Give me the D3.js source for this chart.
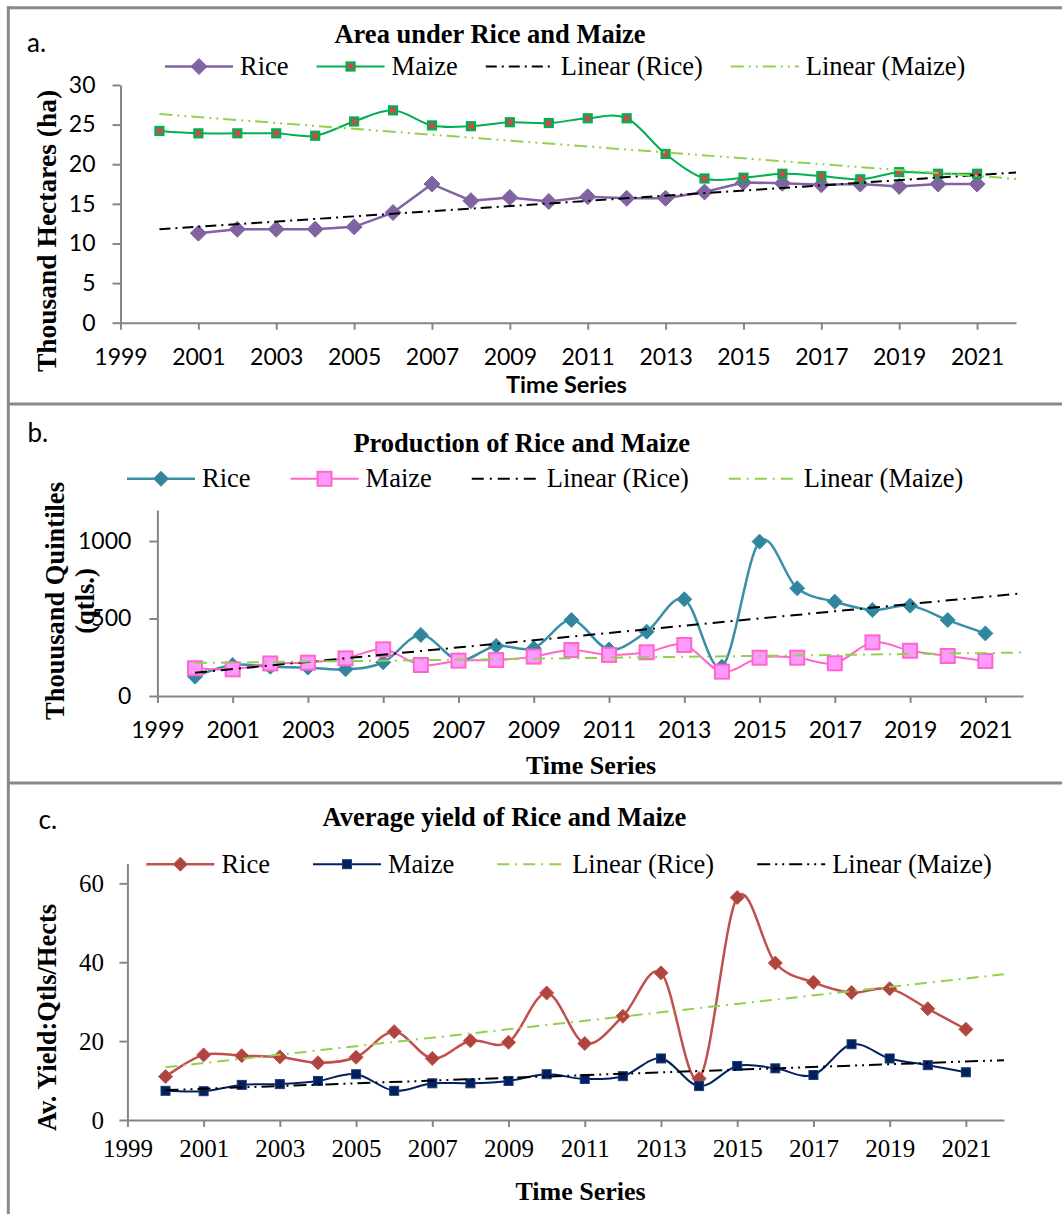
<!DOCTYPE html>
<html>
<head>
<meta charset="utf-8">
<script src="https://cdn.jsdelivr.net/npm/d3@7"></script>
<style>
  body { margin: 0; background: #fff; }
</style>
</head>
<body>
<svg id="chart" width="1062" height="1214"></svg>
<script>
// ---- data ----
const years = [2000, 2001, 2002, 2003, 2004, 2005, 2006, 2007, 2008, 2009, 2010,
               2011, 2012, 2013, 2014, 2015, 2016, 2017, 2018, 2019, 2020, 2021];

// a. area (thousand ha) - rice has no 2000 value
const areaRice  = [null, 11.3, 11.8, 11.8, 11.8, 12.1, 13.9, 17.5, 15.4, 15.8, 15.3,
                   15.9, 15.7, 15.7, 16.5, 17.7, 17.6, 17.4, 17.5, 17.2, 17.5, 17.5];
const areaMaize = [24.2, 23.9, 23.9, 23.9, 23.6, 25.4, 26.8, 24.9, 24.8, 25.3, 25.2,
                   25.8, 25.8, 21.3, 18.2, 18.3, 18.8, 18.5, 18.1, 19.0, 18.8, 18.8];

// b. production (thousand qtls)
const prodRice  = [125, 200, 189, 183, 172, 217, 394, 232, 323, 308, 490,
                   300, 415, 624, 189, 996, 695, 608, 555, 583, 490, 404];
const prodMaize = [179, 172, 210, 215, 243, 301, 200, 228, 232, 254, 297,
                   265, 282, 329, 157, 247, 247, 211, 346, 292, 258, 226];

// c. average yield (qtls/ha)
const yieldRice  = [11.0, 16.5, 16.3, 16.0, 14.5, 15.9, 22.4, 15.6, 20.1, 19.7, 32.2,
                    19.4, 26.3, 37.3, 10.5, 56.4, 39.8, 34.9, 32.3, 33.3, 28.2, 23.0];
const yieldMaize = [7.4, 7.3, 8.9, 9.1, 9.9, 11.6, 7.4, 9.3, 9.3, 9.9, 11.6,
                    10.4, 11.1, 15.6, 8.6, 13.7, 13.1, 11.4, 19.2, 15.6, 13.9, 12.1];

const xTicks = [1999, 2001, 2003, 2005, 2007, 2009, 2011, 2013, 2015, 2017, 2019, 2021];
const xDomain = [1999, 2022];
const trendSpan = [2000, 2022];
const areaTicks = [0, 5, 10, 15, 20, 25, 30];
const prodTicks = [0, 500, 1000];
const yieldTicks = [0, 20, 40, 60];

// ---- look ----
const sans = "Lato, 'Open Sans', sans-serif";
const serif = "'Liberation Serif', 'Times New Roman', serif";
const axisGray = "#868686";

const panels = [
  {
    letter: "a.", letterX: 27, letterY: 52, letterFont: sans,
    title: "Area under Rice and Maize", titleX: 490, titleY: 43,
    left: 120.5, right: 1016, bottom: 322.7, top: 85, yMax: 30, yTicks: areaTicks,
    tickFont: sans, tickFs: 23, yLabelGap: 25, xLabelY: 42.3,
    yTitle: ["Thousand Hectares (ha)"], yTitleX: [56], yTitleY: 231, yTitleFs: 27.5,
    xTitle: "Time Series", xTitleFont: sans, xTitleFs: 23.5, xTitleX: 566.5, xTitleY: 393,
    legendX: 165, legendY: 75, legendGap: 28,
    series: [
      { name: "Rice", values: areaRice, color: "#8064A2", width: 2.5, smooth: false,
        marker: "diamond", size: 16, fill: "#8064A2", stroke: "#8064A2", sw: 1 },
      { name: "Maize", values: areaMaize, color: "#00B050", width: 2, smooth: true,
        marker: "square", size: 8, fill: "#C0504D", stroke: "#00B050", sw: 2.2 }
    ],
    trends: [
      { name: "Linear (Rice)", of: 0, color: "#000", dash: "11,5,2,5" },
      { name: "Linear (Maize)", of: 1, color: "#92D050", dash: "13,5,2,5,2,5" }
    ]
  },
  {
    letter: "b.", letterX: 27.5, letterY: 441.7, letterFont: sans,
    title: "Production of Rice and Maize", titleX: 521.7, titleY: 451.7,
    left: 157.4, right: 1023, bottom: 696, top: 510, yMax: 1200, yTicks: prodTicks,
    tickFont: sans, tickFs: 23, yLabelGap: 26, xLabelY: 42,
    yTitle: ["Thouusand Quintiles", "(qtls.)"], yTitleX: [64, 94], yTitleY: 601, yTitleFs: 26.5,
    xTitle: "Time Series", xTitleFont: serif, xTitleFs: 26, xTitleX: 591, xTitleY: 774,
    legendX: 127, legendY: 487.3, legendGap: 40,
    series: [
      { name: "Rice", values: prodRice, color: "#3A8FA7", width: 2.5, smooth: true,
        marker: "diamond", size: 15, fill: "#31859C", stroke: "#3A8FA7", sw: 1 },
      { name: "Maize", values: prodMaize, color: "#FF66CC", width: 2, smooth: true,
        marker: "square", size: 14, fill: "#FF99FF", stroke: "#FF66CC", sw: 2 }
    ],
    trends: [
      { name: "Linear (Rice)", of: 0, color: "#000", dash: "12,6,2,6" },
      { name: "Linear (Maize)", of: 1, color: "#92D050", dash: "12,6,2,6" }
    ]
  },
  {
    letter: "c.", letterX: 38.5, letterY: 829.3, letterFont: sans,
    title: "Average yield of Rice and Maize", titleX: 504.4, titleY: 825.7,
    left: 127.4, right: 1004, bottom: 1120, top: 863.6, yMax: 65, yTicks: yieldTicks,
    tickFont: serif, tickFs: 25, yLabelGap: 23.4, xLabelY: 37,
    yTitle: ["Av. Yield:Qtls/Hects"], yTitleX: [56], yTitleY: 1017.5, yTitleFs: 26.5,
    xTitle: "Time Series", xTitleFont: serif, xTitleFs: 26, xTitleX: 580.5, xTitleY: 1200,
    legendX: 146.4, legendY: 872.7, legendGap: 43,
    series: [
      { name: "Rice", values: yieldRice, color: "#C0504D", width: 2.5, smooth: true,
        marker: "diamond", size: 14, fill: "#B0453F", stroke: "#C0504D", sw: 1 },
      { name: "Maize", values: yieldMaize, color: "#002060", width: 2, smooth: true,
        marker: "square", size: 9, fill: "#002060", stroke: "#1F3B73", sw: 1 }
    ],
    trends: [
      { name: "Linear (Rice)", of: 0, color: "#92D050", dash: "12,6,2,6" },
      { name: "Linear (Maize)", of: 1, color: "#000", dash: "13,5,2,5,2,5" }
    ]
  }
];

const svg = d3.select("#chart");

// panel frames
const frame = svg.append("g").attr("stroke", "#888").attr("stroke-width", 3);
frame.append("line").attr("x1", 7).attr("x2", 1062).attr("y1", 7.7).attr("y2", 7.7);
frame.append("line").attr("x1", 7).attr("x2", 1062).attr("y1", 404).attr("y2", 404);
frame.append("line").attr("x1", 7).attr("x2", 1062).attr("y1", 783).attr("y2", 783);
frame.append("line").attr("x1", 8.3).attr("x2", 8.3).attr("y1", 6.2).attr("y2", 1214);

// least squares trend, as the spreadsheet draws it
function fit(values) {
  const pts = years.map((yr, i) => [yr, values[i]]).filter(d => d[1] != null);
  const mx = d3.mean(pts, d => d[0]);
  const my = d3.mean(pts, d => d[1]);
  const slope = d3.sum(pts, d => (d[0] - mx) * (d[1] - my)) / d3.sum(pts, d => (d[0] - mx) ** 2);
  return t => my + slope * (t - mx);
}

function addMarker(sel, s) {
  let m;
  if (s.marker === "diamond") {
    const h = s.size / 2;
    m = sel.append("path").attr("d", `M0,${-h}L${h},0L0,${h}L${-h},0Z`);
  } else {
    m = sel.append("rect")
      .attr("x", -s.size / 2).attr("y", -s.size / 2)
      .attr("width", s.size).attr("height", s.size);
  }
  m.attr("fill", s.fill).attr("stroke", s.stroke).attr("stroke-width", s.sw);
}

function drawPanel(p) {
  const g = svg.append("g");

  const x = d3.scaleLinear().domain(xDomain).range([p.left, p.right]);
  const y = d3.scaleLinear().domain([0, p.yMax]).range([p.bottom, p.top]);

  // axes
  const xAxis = g.append("g")
    .attr("transform", `translate(0,${p.bottom})`)
    .call(d3.axisBottom(x).tickValues(xTicks).tickFormat(d3.format("d"))
      .tickSize(7).tickSizeOuter(0));
  xAxis.selectAll("text").attr("dy", null).attr("y", p.xLabelY);

  const yAxis = g.append("g")
    .attr("transform", `translate(${p.left},0)`)
    .call(d3.axisLeft(y).tickValues(p.yTicks).tickFormat(d3.format("d"))
      .tickSize(8).tickSizeOuter(0).tickPadding(p.yLabelGap - 8));

  [xAxis, yAxis].forEach(ax => {
    ax.attr("font-family", p.tickFont).attr("font-size", p.tickFs);
    ax.select(".domain").attr("stroke", axisGray).attr("stroke-width", 2);
    ax.selectAll(".tick line").attr("stroke", axisGray).attr("stroke-width", 2);
    ax.selectAll(".tick text").attr("fill", "#000");
  });

  // series
  p.series.forEach(s => {
    const pts = years.map((yr, i) => ({ yr, v: s.values[i] })).filter(d => d.v != null);
    const line = d3.line()
      .x(d => x(d.yr))
      .y(d => y(d.v))
      .curve(s.smooth ? d3.curveCardinal.tension(0) : d3.curveLinear);

    g.append("path")
      .datum(pts)
      .attr("d", line)
      .attr("fill", "none")
      .attr("stroke", s.color)
      .attr("stroke-width", s.width)
      .attr("stroke-linejoin", "round");

    g.append("g").selectAll("g")
      .data(pts)
      .enter()
      .append("g")
      .attr("transform", d => `translate(${x(d.yr)},${y(d.v)})`)
      .each(function () { addMarker(d3.select(this), s); });
  });

  // linear trend lines
  p.trends.forEach(t => {
    const f = fit(p.series[t.of].values);
    g.append("path")
      .datum(trendSpan)
      .attr("d", d3.line().x(d => x(d)).y(d => y(f(d))))
      .attr("fill", "none")
      .attr("stroke", t.color)
      .attr("stroke-width", 2)
      .attr("stroke-dasharray", t.dash);
  });

  // texts
  g.append("text")
    .attr("x", p.letterX).attr("y", p.letterY)
    .style("font-family", p.letterFont).style("font-size", "26px")
    .text(p.letter);

  g.append("text")
    .attr("x", p.titleX).attr("y", p.titleY)
    .attr("text-anchor", "middle")
    .style("font-family", serif).style("font-size", "26.5px").style("font-weight", "bold")
    .text(p.title);

  p.yTitle.forEach((txt, i) => {
    g.append("text")
      .attr("transform", `translate(${p.yTitleX[i]},${p.yTitleY}) rotate(-90)`)
      .attr("text-anchor", "middle")
      .style("font-family", serif).style("font-size", p.yTitleFs + "px").style("font-weight", "bold")
      .text(txt);
  });

  g.append("text")
    .attr("x", p.xTitleX).attr("y", p.xTitleY)
    .attr("text-anchor", "middle")
    .style("font-family", p.xTitleFont).style("font-size", p.xTitleFs + "px").style("font-weight", "bold")
    .text(p.xTitle);

  // legend
  const entries = p.series.map(s => ({ ...s, isSeries: true }))
    .concat(p.trends.map(t => ({ ...t, isSeries: false })));
  const ly = p.legendY - 8.5;
  let lx = p.legendX;
  entries.forEach(e => {
    const item = g.append("g");
    item.append("line")
      .attr("x1", lx).attr("x2", lx + 68).attr("y1", ly).attr("y2", ly)
      .attr("stroke", e.color)
      .attr("stroke-width", e.isSeries ? e.width : 2)
      .attr("stroke-dasharray", e.isSeries ? null : e.dash);
    if (e.isSeries) {
      addMarker(item.append("g").attr("transform", `translate(${lx + 34},${ly})`), e);
    }
    const label = item.append("text")
      .attr("x", lx + 75).attr("y", p.legendY)
      .style("font-family", serif).style("font-size", "26.5px")
      .text(e.name);
    lx += 75 + label.node().getComputedTextLength() + p.legendGap;
  });
}

panels.forEach(drawPanel);
</script>
</body>
</html>
